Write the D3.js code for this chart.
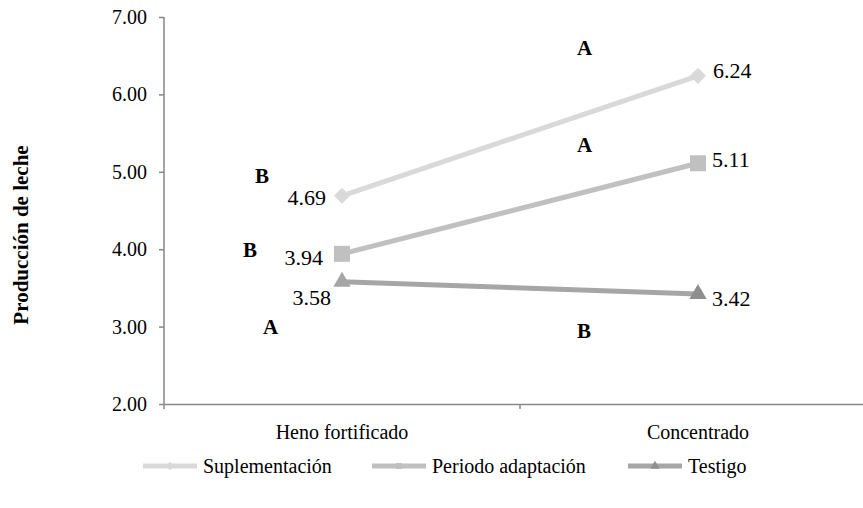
<!DOCTYPE html>
<html><head><meta charset="utf-8">
<script src="https://cdn.jsdelivr.net/npm/d3@7"></script>
<style>body{margin:0;background:#fff}svg{display:block}</style>
</head><body><svg id="c" width="863" height="508"></svg>
<script>
const categories = ["Heno fortificado", "Concentrado"];
const seriesNames = ["Suplementación", "Periodo adaptación", "Testigo"];
const suplementacion = [4.69, 6.24];
const periodo = [3.94, 5.11];
const testigo = [3.58, 3.42];
const yTicks = [2, 3, 4, 5, 6, 7];
const letterText = ["B", "B", "A", "A", "A", "B"];
const letterCat = [0, 0, 0, 1, 1, 1];
const letterVal = [4.86, 3.90, 2.9, 6.51, 5.25, 2.85];

const FONT = "'Liberation Serif', Tinos, 'Times New Roman', Times, 'DejaVu Serif', serif";
const letterDx = [-87, -99, -79, -121, -121, -121];
const series = [
  {name: seriesNames[0], vals: suplementacion, color: "#d9d9d9", mcolor: ["#d9d9d9", "#d9d9d9"], sym: d3.symbolSquare, rot: 45, size: 130, lab: [{dx: -16, dy: 9, a: "end"}, {dx: 15, dy: 2, a: "start"}]},
  {name: seriesNames[1], vals: periodo, color: "#c0c0c0", mcolor: ["#c0c0c0", "#c0c0c0"], sym: d3.symbolSquare, rot: 0, size: 256, lab: [{dx: -19, dy: 11, a: "end"}, {dx: 14, dy: 4, a: "start"}]},
  {name: seriesNames[2], vals: testigo, color: "#a6a6a6", mcolor: ["#a6a6a6", "#8e8e8e"], sym: d3.symbolTriangle, rot: 0, size: 130, lab: [{dx: -11, dy: 23, a: "end"}, {dx: 14, dy: 12, a: "start"}]}
];

const svg = d3.select("#c");
const x = d3.scaleBand().domain(categories).range([164, 876]);
const y = d3.scaleLinear().domain([2, 7]).range([404, 17]);
const cx = c => x(c) + x.bandwidth() / 2;

// Y axis
const ya = svg.append("g").attr("transform", "translate(164,0)")
  .call(d3.axisLeft(y).tickValues(yTicks).tickFormat(d3.format(".2f")).tickSize(5).tickPadding(12));
ya.attr("font-family", FONT);
ya.select(".domain").attr("stroke", "#868686").attr("stroke-width", 1.5).attr("d", "M0,17V404");
ya.selectAll(".tick line").attr("stroke", "#868686").attr("stroke-width", 1.5);
ya.selectAll(".tick text").attr("font-size", 20).attr("font-family", FONT).attr("fill", "#000");

// X axis
const xa = svg.append("g").attr("transform", "translate(0,404)")
  .call(d3.axisBottom(x).tickSize(0).tickPadding(21));
xa.attr("font-family", FONT);
xa.select(".domain").attr("stroke", "#868686").attr("stroke-width", 1.5);
xa.selectAll(".tick text").attr("font-size", 20).attr("font-family", FONT).attr("fill", "#000");
xa.selectAll(".bt").data([x.range()[0], x(categories[1])]).enter().append("line")
  .attr("x1", d => d).attr("x2", d => d).attr("y1", 0).attr("y2", 5)
  .attr("stroke", "#868686").attr("stroke-width", 1.5);

// Lines
const line = d3.line().x((d, i) => cx(categories[i])).y(d => y(d));
series.forEach(s => {
  svg.append("path").datum(s.vals).attr("d", line).attr("fill", "none")
    .attr("stroke", s.color).attr("stroke-width", 5);
  s.vals.forEach((v, i) => {
    svg.append("path").attr("d", d3.symbol().type(s.sym).size(s.size)())
      .attr("transform", `translate(${cx(categories[i])},${y(v)}) rotate(${s.rot})`).attr("fill", s.mcolor[i]);
    const l = s.lab[i];
    svg.append("text").attr("x", cx(categories[i]) + l.dx).attr("y", y(v) + l.dy)
      .attr("text-anchor", l.a).attr("font-size", 22).attr("font-family", FONT).text(d3.format(".2f")(v));
  });
});

// Significance letters
svg.selectAll(".let").data(letterText).enter().append("text")
  .attr("x", (d, i) => cx(categories[letterCat[i]]) + letterDx[i]).attr("y", (d, i) => y(letterVal[i]))
  .attr("font-size", 21).attr("font-weight", "bold").attr("font-family", FONT).text(d => d);

// Y title
svg.append("text").attr("transform", "translate(28,235) rotate(-90)")
  .attr("text-anchor", "middle").attr("font-size", 21).attr("font-weight", "bold").attr("font-family", FONT)
  .text("Producción de leche");

// Legend
const legX = [143, 372, 628];
series.forEach((s, i) => {
  const g = svg.append("g").attr("transform", `translate(${legX[i]},466)`);
  g.append("line").attr("x1", 0).attr("x2", 54).attr("y1", 0).attr("y2", 0)
    .attr("stroke", s.color).attr("stroke-width", 5);
  g.append("path").attr("d", d3.symbol().type(s.sym).size(36)()).attr("transform", `translate(27,0) rotate(${s.rot})`).attr("fill", s.mcolor[1]);
  g.append("text").attr("x", 60).attr("y", 7).attr("font-size", 20).attr("font-family", FONT).text(s.name);
});
</script></body></html>
